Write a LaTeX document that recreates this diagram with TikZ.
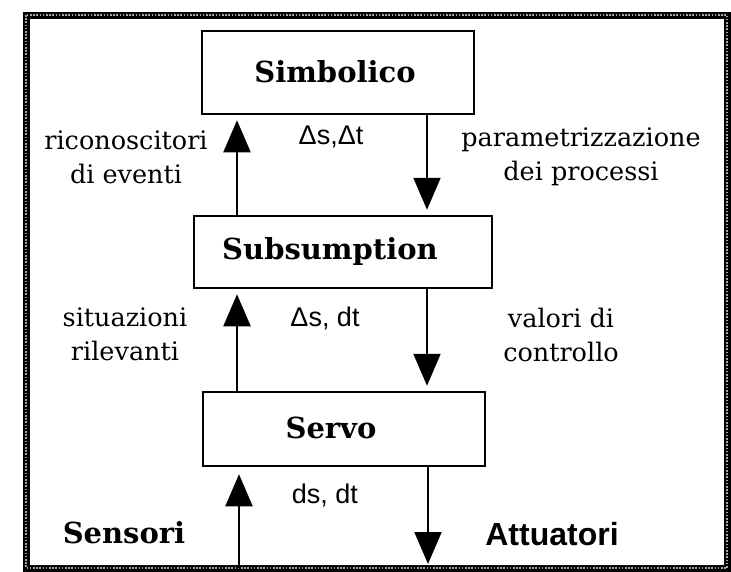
\documentclass[tikz,border=0pt]{standalone}
\usepackage{fontspec}
\setmainfont{DejaVu Serif}
\newfontfamily\sansf{Liberation Sans}
\usetikzlibrary{arrows.meta}
\begin{document}
\begin{tikzpicture}[x=1pt,y=-1pt,
  box/.style={draw,line width=2.5pt,inner sep=0pt},
  title/.style={font=\fontsize{29}{32}\selectfont\bfseries},
  lbl/.style={font=\fontsize{25.5}{34}\selectfont,align=center,inner sep=0pt},
  sym/.style={font=\sansf\fontsize{27}{30}\selectfont,inner sep=0pt},
  arr/.style={line width=2pt,-{Triangle[width=27pt,length=32pt]},shorten >=5pt}]
\useasboundingbox (0,0) rectangle (731,571);
\fill[white] (0,0) rectangle (731,571);
\draw[line width=7pt,black] (26,15) rectangle (727,568);
\draw[line width=2.2pt,white!65!black,dash pattern=on 1.6pt off 1.6pt] (26,15) rectangle (727,568);
% boxes
\node[box,minimum width=272pt,minimum height=83pt] (simb) at (338,72.5) {};
\node[box,minimum width=298pt,minimum height=72pt] (subs) at (343,252) {};
\node[box,minimum width=282pt,minimum height=74pt] (servo) at (344,429) {};
\node[title] (tsimb) at (335,72) {Simbolico};
\node[title] (tsubs) at (330,251) {Subsumption};
\node[title] (tservo) at (331,428) {Servo};
% columns
\coordinate (xL) at (237,0);
\coordinate (xR) at (427,0);
\coordinate (inS) at (239,568);
\coordinate (outA) at (428,568);
% arrows
\draw[arr] (xL |- subs.north) -- (xL |- simb.south);
\draw[arr] (xR |- simb.south) -- (xR |- subs.north);
\draw[arr] (xL |- servo.north) -- (xL |- subs.south);
\draw[arr] (xR |- subs.south) -- (xR |- servo.north);
\draw[arr,shorten >=7pt] (inS) -- (inS |- servo.south);
\draw[arr,shorten >=4pt] (outA |- servo.south) -- (outA);
% labels
\node[lbl] (l1) at (126,157) {riconoscitori\\di eventi};
\node[sym] (d1) at (331,137) {Δs,Δt};
\node[lbl] (l2) at (581,157) {parametrizzazione\\dei processi};
\node[lbl] (l3) at (125,334) {situazioni\\rilevanti};
\node[sym] (d2) at (325,318) {Δs, dt};
\node[lbl] (l4) at (561,335) {valori di\\controllo};
\node[sym] (d3) at (325,495) {ds, dt};
\node[title] (sens) at (124,533) {Sensori};
\node[font=\sansf\bfseries\fontsize{32}{34}\selectfont] (att) at (552,534) {Attuatori};
\end{tikzpicture}
\end{document}
